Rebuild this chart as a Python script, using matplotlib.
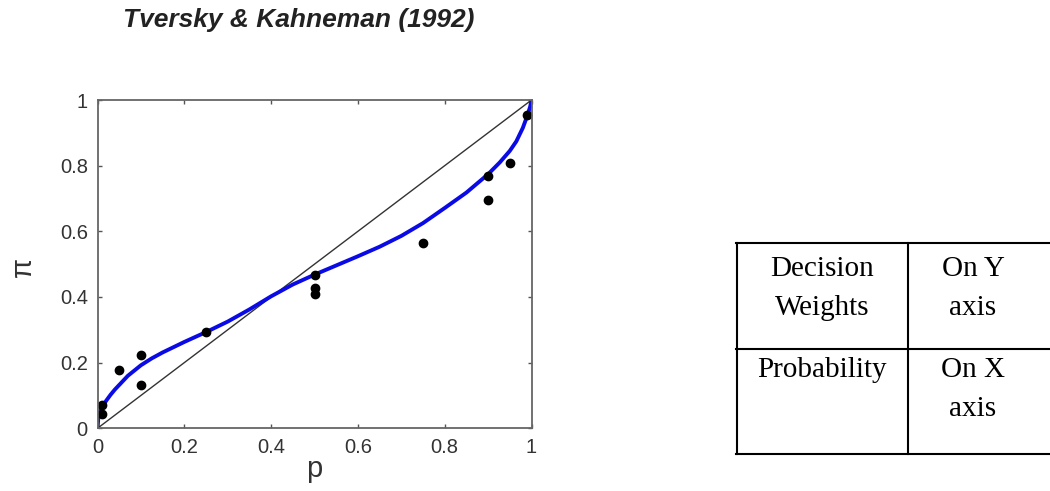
import matplotlib
matplotlib.use("Agg")
import matplotlib.pyplot as plt

# probability weighting curve
curve_p = [0.0, 0.002, 0.006, 0.012, 0.02, 0.03, 0.04, 0.05, 0.07, 0.1, 0.125, 0.15, 0.2, 0.25,
           0.3, 0.35, 0.4, 0.45, 0.5, 0.55, 0.6, 0.65, 0.7, 0.75, 0.8, 0.85, 0.9, 0.927,
           0.95, 0.965, 0.98, 0.99, 0.997, 1.0]
curve_w = [0.0, 0.032, 0.052, 0.068, 0.084, 0.102, 0.118, 0.132, 0.160, 0.192, 0.213, 0.231, 0.263, 0.293,
           0.325, 0.362, 0.402, 0.438, 0.468, 0.496, 0.524, 0.553, 0.586, 0.625, 0.671, 0.718, 0.774, 0.81,
           0.845, 0.874, 0.915, 0.951, 0.98, 1.0]

# observed decision weights
obs_p = [0.01, 0.01, 0.05, 0.1, 0.1, 0.25, 0.5, 0.5, 0.5, 0.75, 0.9, 0.9, 0.95, 0.99]
obs_w = [0.072, 0.045, 0.177, 0.222, 0.132, 0.294, 0.468, 0.428, 0.408, 0.563, 0.77, 0.695, 0.807, 0.955]

ticks = [0, 0.2, 0.4, 0.6, 0.8, 1]
tick_labels = ["0", "0.2", "0.4", "0.6", "0.8", "1"]

# side table
table_left = [["Decision", "Weights"], ["Probability"]]
table_right = [["On Y", "axis"], ["On X", "axis"]]

W, H = 1050, 491
fig = plt.figure(figsize=(W / 100, H / 100), dpi=100)

ax = fig.add_axes([97.5 / W, 1 - 428.3 / H, 434 / W, 328.3 / H])
ax.plot([0, 1], [0, 1], color="#333333", lw=1.0)
ax.plot(curve_p, curve_w, color="#0a0ae6", lw=2.8, solid_capstyle="round", solid_joinstyle="round")
ax.plot(obs_p, obs_w, "o", color="black", ms=6)

ax.set_xlim(0, 1)
ax.set_ylim(0, 1)
ax.set_xticks(ticks)
ax.set_yticks(ticks)
ax.set_xticklabels(tick_labels)
ax.set_yticklabels(tick_labels)
ax.tick_params(direction="in", length=3, width=1, colors="#555555", labelcolor="#333333",
               labelsize=14.5, top=True, right=True, pad=7)
for lab in ax.get_xticklabels() + ax.get_yticklabels():
    lab.set_family("Liberation Sans")
for s in ax.spines.values():
    s.set_color("#666666")
    s.set_linewidth(1.3)

ax.set_xlabel("p", fontsize=21, color="#333333", family="Liberation Sans", va="center")
ax.xaxis.set_label_coords(0.5, -0.125)
ax.set_ylabel("π", fontsize=21, color="#333333", family="Liberation Sans", va="center")
ax.yaxis.set_label_coords(-0.172, 0.49)

fig.text(299 / W, 1 - 20 / H, "Tversky & Kahneman (1992)", ha="center", va="center",
         fontsize=19, fontweight="bold", fontstyle="italic", family="Liberation Sans",
         color="#222222")

# table drawn in pixel coordinates
tx = fig.add_axes([0, 0, 1, 1], zorder=-1)
tx.set_xlim(0, W)
tx.set_ylim(H, 0)
tx.axis("off")
for x in [737, 908]:
    tx.plot([x, x], [243, 454], color="black", lw=1.5)
for y in [243, 349, 454]:
    tx.plot([736, 1060], [y, y], color="black", lw=1.5)

row_baselines = [[276, 315], [377, 416]]
for r in range(2):
    for i, line in enumerate(table_left[r]):
        tx.text(822.5, row_baselines[r][i], line, ha="center", va="baseline",
                fontsize=21, family="Liberation Serif")
    for i, line in enumerate(table_right[r]):
        tx.text(973, row_baselines[r][i], line, ha="center", va="baseline",
                fontsize=21, family="Liberation Serif")

fig.savefig("out.png", dpi=100)
